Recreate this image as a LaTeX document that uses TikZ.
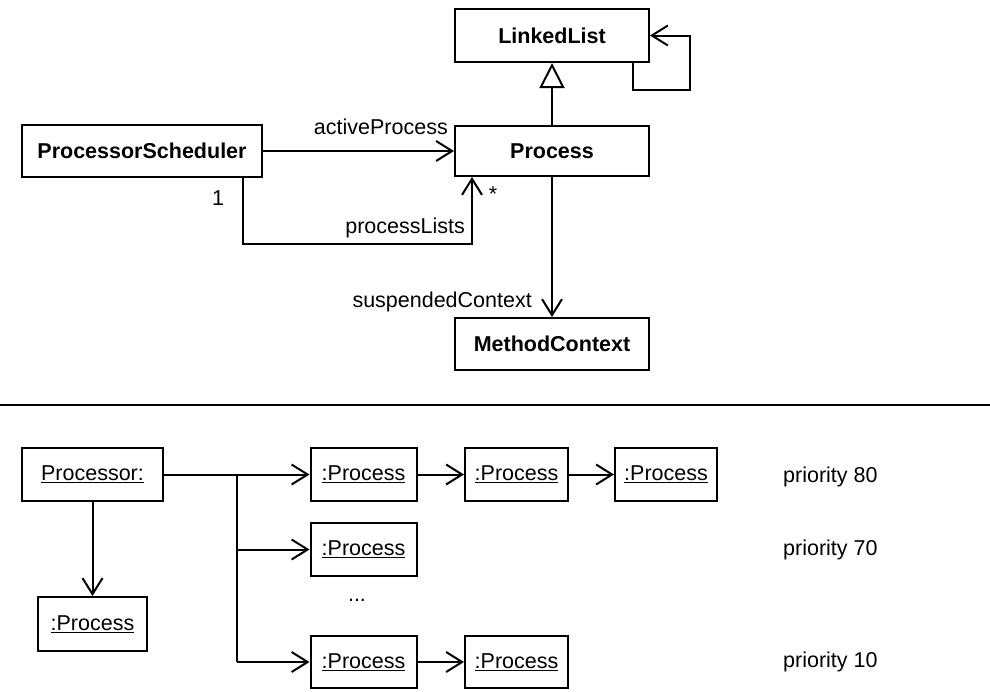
\documentclass[tikz,border=0pt]{standalone}
\usepackage{fontspec}
\setmainfont{Liberation Sans}
\usetikzlibrary{arrows.meta,calc}
\begin{document}
\begin{tikzpicture}[x=1pt,y=-1pt,
  every node/.style={font=\fontsize{21.5}{24}\selectfont},
  cls/.style={draw,line width=2pt,inner sep=0pt,minimum width=194pt,minimum height=52pt,font=\fontsize{21.5}{24}\selectfont\bfseries},
  obj/.style={draw,line width=2pt,inner sep=0pt,minimum width=106pt,minimum height=53pt},
  lbl/.style={inner sep=0pt},
  nav/.style={line width=2pt,-{Straight Barb[length=16pt,width=20pt,line width=2pt]}},
  link/.style={line width=2pt},
  inh/.style={line width=2pt,-{Triangle[open,length=25pt,width=25pt,line width=2pt,fill=white]}}
]
\useasboundingbox (0,0) rectangle (990,691);

% ---- class diagram ----
\node[cls,minimum height=53pt] (ll) at (552,35.5) {LinkedList};
\node[cls,minimum height=50pt] (process) at (552,151) {Process};
\node[cls,minimum width=240pt] (ps) at (142,151) {ProcessorScheduler};
\node[cls] (mc) at (552,344) {MethodContext};

\draw[inh] (process.north) -- (ll.south);
\coordinate (lc) at (690,90);
\draw[nav] ([xshift=81pt]ll.south) |- (lc) |- (ll.east);

\draw[nav] (ps.east) -- (process.west);
\node[lbl,anchor=east] (lap) at (448,127) {activeProcess};

\coordinate (pl) at (243,244);
\draw[nav] ([xshift=101pt]ps.south) -- (pl) -| ([xshift=-80pt]process.south);
\node[lbl] (one) at (218,198) {1};
\node[lbl] (many) at (493,194) {*};
\node[lbl,anchor=east] (lpl) at (465,228) {processLists};

\draw[nav] (process.south) -- (mc.north);
\node[lbl,anchor=east] (lsc) at (532,302) {suspendedContext};

% ---- separator ----
\coordinate (sepL) at (0,405);
\coordinate (sepR) at (990,405);
\draw[line width=2pt] (sepL) -- (sepR);

% ---- object diagram ----
\node[obj,minimum width=141pt] (proc) at (92.5,474.5) {\underline{Processor:}};
\node[obj,minimum width=109pt,minimum height=54pt] (cur) at (92.5,624) {\underline{:Process}};

\node[obj] (a1) at (363.5,474.5) {\underline{:Process}};
\node[obj,minimum width=103pt] (a2) at (516.5,474.5) {\underline{:Process}};
\node[obj,minimum width=102pt] (a3) at (666,474.5) {\underline{:Process}};

\node[obj] (b1) at (363.5,549.5) {\underline{:Process}};
\node[lbl] (dots) at (357,600) {...};

\node[obj,minimum height=52pt] (c1) at (363.5,662) {\underline{:Process}};
\node[obj,minimum width=103pt,minimum height=52pt] (c2) at (516.5,662) {\underline{:Process}};

\node[lbl,anchor=west] (p80) at (783,477) {priority 80};
\node[lbl,anchor=west] (p70) at (783,550) {priority 70};
\node[lbl,anchor=west] (p10) at (783,662) {priority 10};

\draw[nav] (proc.south) -- (cur.north);

\coordinate (j1) at (237,474.5);
\coordinate (j2) at (237,549.5);
\coordinate (j3) at (237,662);
\draw[nav] (proc.east) -- (a1.west);
\draw[link] (j1) -- (j3);
\draw[nav] (j2) -- (b1.west);
\draw[nav] (j3) -- (c1.west);

\draw[nav] (a1.east) -- (a2.west);
\draw[nav] (a2.east) -- (a3.west);
\draw[nav] (c1.east) -- (c2.west);
\end{tikzpicture}
\end{document}
